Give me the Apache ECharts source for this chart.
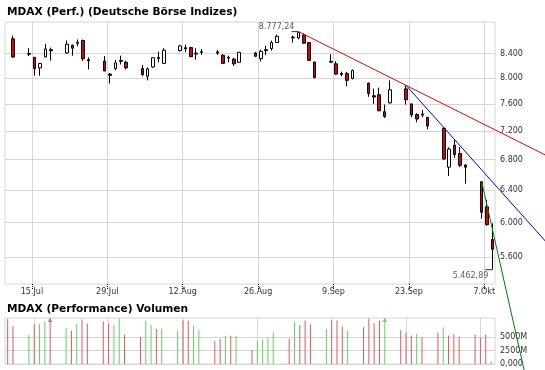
<!DOCTYPE html>
<html><head><meta charset="utf-8">
<script src="https://cdn.jsdelivr.net/npm/echarts@6/dist/echarts.min.js"></script>
<style>html,body{margin:0;padding:0;background:#fff}#c{width:545px;height:370px}</style>
</head><body><div id="c"></div>
<script>
const dates = ['2008-07-11','2008-07-14','2008-07-15','2008-07-16','2008-07-17','2008-07-18','2008-07-21','2008-07-22','2008-07-23','2008-07-24','2008-07-25','2008-07-28','2008-07-29','2008-07-30','2008-07-31','2008-08-01','2008-08-04','2008-08-05','2008-08-06','2008-08-07','2008-08-08','2008-08-11','2008-08-12','2008-08-13','2008-08-14','2008-08-15','2008-08-18','2008-08-19','2008-08-20','2008-08-21','2008-08-22','2008-08-25','2008-08-26','2008-08-27','2008-08-28','2008-08-29','2008-09-01','2008-09-02','2008-09-03','2008-09-04','2008-09-05','2008-09-08','2008-09-09','2008-09-10','2008-09-11','2008-09-12','2008-09-15','2008-09-16','2008-09-17','2008-09-18','2008-09-19','2008-09-22','2008-09-23','2008-09-24','2008-09-25','2008-09-26','2008-09-29','2008-09-30','2008-10-01','2008-10-02','2008-10-03','2008-10-06','2008-10-07','2008-10-08'];
const open  = [8653,8390,8339,8165,8344,8465,8412,8543,8575,8622, 8300,8278,8065,8156,8272,8257,8156,8030,8181,8335, 8239,8451,8500,8502,8392,8420,8430,8373,8325,8310, 8257,8412,8316,8450,8485,8588,8682,8666,8717,8588, 8261,8258,8232,8075,8073,7995,7920,7725,7740,7484, 7615,7831,7600,7440,7432,7400,7240,6700,7001,6884, 6730,6508,6190,5800];
const close = [8344,8400,8156,8239,8480,8448,8560,8492,8592,8316, 8282,8115,8045,8248,8290,8165,8057,8150,8332,8320, 8458,8531,8482,8349,8410,8434,8410,8239,8340,8232, 8423,8356,8440,8468,8588,8697,8670,8760,8577,8289, 8012,8272,8065,8058,7965,8123,7760,7705,7497,7413, 7817,7664,7435,7375,7448,7274,6810,6946,6870,6725, 6700,6125,5975,5690];
const low   = [8327,8361,8040,8040,8340,8283,8400,8366,8525,8278, 8140,8110,7915,8128,8221,8140,8030,7965,8170,8257, 8235,8434,8423,8345,8300,8378,8378,8232,8257,8198, 8250,8350,8273,8373,8451,8580,8588,8643,8570,8285, 7995,8250,8050,8030,7870,7980,7710,7600,7490,7390, 7605,7590,7400,7326,7400,7225,6798,6584,6825,6705, 6484,6048,5963,5462.89];
const high  = [8706,8492,8345,8248,8566,8502,8622,8550,8640,8640, 8339,8361,8085,8294,8366,8283,8211,8173,8340,8434, 8492,8549,8553,8515,8492,8480,8463,8390,8366,8330, 8430,8430,8468,8531,8622,8725,8706,8777.24,8745,8595, 8265,8390,8273,8105,8100,8140,7930,7835,7850,7590, 7965,7885,7605,7460,7510,7405,7250,6970,7071,6975, 6735,6518,6277,5990];

const volDates = ['2008-07-10'].concat(dates, ['2008-10-09']);
const volume = [8450,7040, 5470,7420,7420,7925,9500, 6790,6230,7550,8300,7550, 7925,7550,7360,8490,5470, 5095,8110,7360,6600,6600, 6230,8110,8110,7170,6415, 4340,4720,5280,5280,5280, 2640,4340,4530,4900,5900, 4720,7800,7230,8110,7420, 6480,8170,8170,7040,6230, 6850,8490,7600,8110,9800, 6290,5900,5340,5660,4960, 5900,6850,5340,5600,5150, 5530,4960,5530,510];
const volDir = ['d','d', 'u','d','u','u','d', 'u','d','u','d','d', 'd','d','u','u','d', 'd','u','u','d','u', 'u','d','d','u','u', 'd','d','u','d','u', 'd','u','u','u','u', 'd','u','d','d','d', 'u','d','d','d','u', 'd','d','d','d','u', 'd','d','d','u','d', 'd','u','d','d','d', 'd','d','d','u'];

const priceTicks = [5600,6000,6400,6800,7200,7600,8000,8400];
const dateTicks = ['2008-07-15','2008-07-29','2008-08-12','2008-08-26','2008-09-09','2008-09-23','2008-10-07'];
const dateTickLabels = ['15.Jul','29.Jul','12.Aug','26.Aug','9.Sep','23.Sep','7.Okt'];
const volTicks = [0,2500,5000];
const volTickLabels = ['0,000','2500M','5000M'];

const trendRed   = [['2008-09-02', 8777.24], ['2008-09-22', 7885]];
const trendBlue  = [['2008-09-22', 7885], ['2008-09-29', 7250]];
const trendGreen = [['2008-10-06', 6518], ['2008-10-07', 6215]];

const titleMain = 'MDAX (Perf.) (Deutsche Börse Indizes)';
const titleVol = 'MDAX (Performance) Volumen';

// --- helpers ---
const base = Date.UTC(2008, 6, 15);
const dayOf = s => (Date.parse(s + 'T00:00:00Z') - base) / 864e5;
function de(n, dec) {
  const s = n.toFixed(dec);
  const parts = s.split('.');
  const i = parts[0].replace(/\B(?=(\d{3})+(?!\d))/g, '.');
  return parts[1] ? i + ',' + parts[1] : i;
}
const L = Math.log;
const FONT = 'DejaVu Sans';
const W = 545, H = 370;

// price panel geometry and axis ranges
const PG = {left: 5, top: 22, width: 490, height: 262};
const pxMin = -5, pxMax = 86;
const pyMin = L(5309), pyMax = L(8947);
// overlay axes that extend the price scales over the whole canvas (for trend lines)
const pxPerDay = PG.width / (pxMax - pxMin);
const lnPerPx = (pyMax - pyMin) / PG.height;
const oxMin = pxMin - PG.left / pxPerDay;
const oxMax = pxMax + (W - PG.left - PG.width) / pxPerDay;
const oyMax = pyMax + PG.top * lnPerPx;
const oyMin = pyMin - (H - PG.top - PG.height) * lnPerPx;

const candleData = dates.map((d, i) => [dayOf(d) + 0.5, L(open[i]), L(close[i]), L(low[i]), L(high[i])]);
const tickDays = dateTicks.map(dayOf);

function trend(anchor, xEnd) {
  const x1 = dayOf(anchor[0][0]) + 0.5, y1 = L(anchor[0][1]);
  const x2 = dayOf(anchor[1][0]) + 0.5, y2 = L(anchor[1][1]);
  const k = (y2 - y1) / (x2 - x1);
  return [[x1, y1], [xEnd, y1 + k * (xEnd - x1)]];
}

const maxHigh = Math.max.apply(null, high);
const minLow = Math.min.apply(null, low);
const iMax = high.indexOf(maxHigh), iMin = low.indexOf(minLow);

const volMax = 8600;
const upC = '#5cd65c', dnC = '#e05a5a';
const volData = volDates.map((d, i) => ({
  value: [dayOf(d), Math.min(volume[i], volMax)],
  itemStyle: {color: volDir[i] === 'u' ? upC : dnC}
}));
const overflow = [];
volDates.forEach((d, i) => { if (volume[i] > volMax) overflow.push({value: [dayOf(d), volMax], itemStyle: {color: volDir[i] === 'u' ? upC : dnC}}); });

const gridColor = '#d6d6d6';
const chart = echarts.init(document.getElementById('c'), null, {renderer: 'canvas'});
chart.setOption({
  animation: false,
  backgroundColor: '#fff',
  title: [
    {text: titleMain, left: 7, top: 7, padding: 0, textStyle: {fontFamily: FONT, fontWeight: 'bold', fontSize: 10.6, color: '#000'}},
    {text: titleVol, left: 7, top: 304, padding: 0, textStyle: {fontFamily: FONT, fontWeight: 'bold', fontSize: 10.6, color: '#000'}}
  ],
  grid: [
    Object.assign({show: true, borderColor: gridColor, borderWidth: 1, backgroundColor: 'transparent'}, PG),
    {left: 5, top: 318, width: 490, height: 46, show: true, borderColor: gridColor, borderWidth: 1, backgroundColor: 'transparent'},
    {left: 0, top: 0, width: W, height: H, show: false}
  ],
  xAxis: [
    {type: 'value', gridIndex: 0, min: pxMin, max: pxMax,
     axisLine: {show: false},
     axisTick: {show: true, customValues: tickDays, length: 5, inside: false, lineStyle: {color: '#000', type: [1, 1]}},
     axisLabel: {customValues: tickDays, margin: 4, fontFamily: FONT, fontSize: 8, color: '#333',
                 formatter: v => dateTickLabels[tickDays.indexOf(v)]},
     splitLine: {show: true, lineStyle: {color: gridColor, width: 1}}},
    {type: 'value', gridIndex: 1, min: -5.5, max: 86.75,
     axisLine: {show: false},
     axisTick: {show: false, customValues: tickDays},
     axisLabel: {show: false, customValues: tickDays},
     splitLine: {show: true, lineStyle: {color: gridColor, width: 1}}},
    {type: 'value', gridIndex: 2, min: oxMin, max: oxMax, show: false, splitLine: {show: false}}
  ],
  yAxis: [
    {type: 'value', gridIndex: 0, position: 'right', min: pyMin, max: pyMax,
     axisLine: {show: false},
     axisTick: {show: false, customValues: priceTicks.map(L)},
     axisLabel: {customValues: priceTicks.map(L), margin: 5, fontFamily: FONT, fontSize: 8, color: '#333',
                 formatter: v => de(Math.round(Math.exp(v)), 0)},
     splitLine: {show: true, lineStyle: {color: gridColor, width: 1}}},
    {type: 'value', gridIndex: 1, position: 'right', min: 0, max: volMax,
     axisLine: {show: false},
     axisTick: {show: false, customValues: volTicks},
     axisLabel: {customValues: volTicks, margin: 5, fontFamily: FONT, fontSize: 8, color: '#333',
                 formatter: v => volTickLabels[volTicks.indexOf(v)]},
     splitLine: {show: true, lineStyle: {color: gridColor, width: 1}}},
    {type: 'value', gridIndex: 2, min: oyMin, max: oyMax, show: false, splitLine: {show: false}}
  ],
  series: [
    {type: 'candlestick', xAxisIndex: 0, yAxisIndex: 0, data: candleData, encode: {x: 0, y: [1, 2, 3, 4]},
     barWidth: 3,
     itemStyle: {color: '#fff', color0: '#dd0000', borderColor: '#000', borderColor0: '#000', borderWidth: 1},
     z: 3},
    {type: 'line', xAxisIndex: 2, yAxisIndex: 2, data: trend(trendRed, 97), showSymbol: false,
     lineStyle: {color: '#ff0000', width: 1}, z: 5, silent: true},
    {type: 'line', xAxisIndex: 2, yAxisIndex: 2, data: trend(trendBlue, 97), showSymbol: false,
     lineStyle: {color: '#0000ff', width: 1}, z: 5, silent: true},
    {type: 'line', xAxisIndex: 2, yAxisIndex: 2, data: trend(trendGreen, 97), showSymbol: false,
     lineStyle: {color: '#008000', width: 1}, z: 5, silent: true},
    {type: 'scatter', xAxisIndex: 0, yAxisIndex: 0, clip: false, silent: true, z: 6,
     symbol: 'rect', symbolSize: [7, 1], symbolOffset: [-3.5, 0], itemStyle: {color: '#000'},
     data: [
       {value: [dayOf(dates[iMax]) + 0.5, L(maxHigh)], label: {show: true, position: 'left', distance: 0, offset: [3, -4.5], formatter: de(maxHigh, 2)}},
       {value: [dayOf(dates[iMin]) + 0.5, L(minLow)], label: {show: true, position: 'left', distance: 0, offset: [3, 6], formatter: de(minLow, 2)}}
     ],
     label: {fontFamily: FONT, fontSize: 8, color: '#333'}},
    {type: 'bar', xAxisIndex: 1, yAxisIndex: 1, data: volData, barWidth: 1, z: 3},
    {type: 'scatter', xAxisIndex: 1, yAxisIndex: 1, data: overflow, symbol: 'triangle', symbolSize: [5, 4], symbolOffset: [0, 2], clip: false, z: 4, silent: true}
  ]
});
</script></body></html>
